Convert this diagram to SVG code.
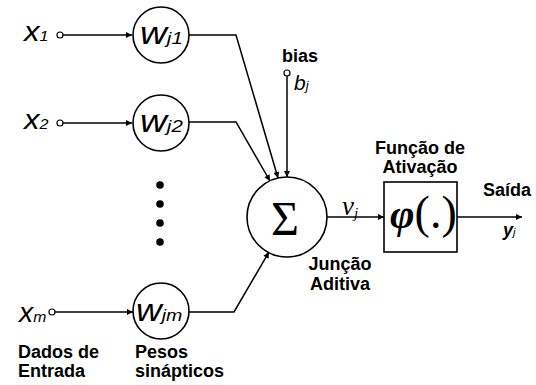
<svg xmlns="http://www.w3.org/2000/svg" width="536" height="385" viewBox="0 0 536 385">
<style>
.ln{fill:none;stroke:#000;stroke-width:1.5}
.nd{fill:#fff;stroke:#000;stroke-width:1.6}
.pt{fill:#fff;stroke:#000;stroke-width:1.2}
.lb{font-family:"Liberation Sans",Arial,sans-serif;font-weight:bold;font-size:18px;fill:#000}
.it{font-family:"Liberation Sans",Arial,sans-serif;font-style:italic;fill:#000}
.sf{font-family:"Liberation Serif","Times New Roman",serif;fill:#000}
</style>
<defs>
<marker id="ah" viewBox="0 0 10 10" refX="10" refY="5" markerWidth="8" markerHeight="6" markerUnits="userSpaceOnUse" orient="auto">
<path d="M0,0 L10,5 L0,10 z" fill="#000"/>
</marker>
</defs>
<rect width="536" height="385" fill="#fff"/>
<g id="connectors">
<line class="ln" x1="63" y1="35" x2="132" y2="35" marker-end="url(#ah)"/>
<line class="ln" x1="63" y1="123" x2="132" y2="123" marker-end="url(#ah)"/>
<line class="ln" x1="55" y1="312" x2="133" y2="312" marker-end="url(#ah)"/>
<polyline class="ln" points="189,35 236,35 278,178" marker-end="url(#ah)"/>
<polyline class="ln" points="189,122 236,122 270,181" marker-end="url(#ah)"/>
<polyline class="ln" points="189,312 234,312 269,252" marker-end="url(#ah)"/>
<line class="ln" x1="287" y1="76" x2="287" y2="177" marker-end="url(#ah)"/>
<line class="ln" x1="327" y1="217" x2="384" y2="217" marker-end="url(#ah)"/>
<line class="ln" x1="457" y1="217" x2="522" y2="217" marker-end="url(#ah)"/>
</g>
<g id="x1">
<circle class="pt" cx="60" cy="35" r="3"/>
<text class="it" transform="translate(24,41) scale(1.15,1)" font-size="27">x<tspan font-size="14">1</tspan></text>
</g>
<g id="x2">
<circle class="pt" cx="60" cy="123" r="3"/>
<text class="it" transform="translate(24,129) scale(1.15,1)" font-size="27">x<tspan font-size="14">2</tspan></text>
</g>
<g id="xm">
<circle class="pt" cx="52" cy="312" r="3"/>
<text class="it" transform="translate(19,322) scale(1.05,1)" font-size="27">x<tspan font-size="15">m</tspan></text>
</g>
<g id="dots">
<circle cx="160" cy="185" r="3.8"/>
<circle cx="160" cy="204" r="3.8"/>
<circle cx="160" cy="223" r="3.8"/>
<circle cx="160" cy="242" r="3.8"/>
</g>
<g id="wj1">
<circle class="nd" cx="161" cy="35" r="28"/>
<text class="it" transform="translate(140,44) scale(1.2,1)" font-size="31">w<tspan font-size="17">j1</tspan></text>
</g>
<g id="wj2">
<circle class="nd" cx="161" cy="123" r="28"/>
<text class="it" transform="translate(140,132) scale(1.2,1)" font-size="31">w<tspan font-size="17">j2</tspan></text>
</g>
<g id="wjm">
<circle class="nd" cx="161" cy="311" r="28"/>
<text class="it" transform="translate(136,321) scale(1.15,1)" font-size="31">w<tspan font-size="17">jm</tspan></text>
</g>
<g id="bias">
<circle class="pt" cx="287" cy="73" r="3"/>
<text class="lb" x="282" y="62" font-size="17">bias</text>
<text class="it" x="294" y="90" font-size="21">b<tspan font-size="13">j</tspan></text>
</g>
<g id="sum">
<circle class="nd" cx="287" cy="217" r="40"/>
<text class="sf" x="285" y="235" font-size="48" text-anchor="middle">Σ</text>
<text class="lb" x="340" y="270" text-anchor="middle">Junção</text>
<text class="lb" x="340" y="290" text-anchor="middle">Aditiva</text>
</g>
<g id="vj">
<text class="sf" x="342" y="215" font-size="27" font-style="italic">ν<tspan font-size="15" dy="3">j</tspan></text>
</g>
<g id="activation">
<rect class="nd" x="384" y="182" width="73" height="70"/>
<text class="sf" x="390" y="228" font-size="46"><tspan font-style="italic" font-weight="bold" font-size="42">φ</tspan>(.)</text>
<text class="lb" x="420" y="154" text-anchor="middle" font-size="16.5">Função de</text>
<text class="lb" x="420" y="173" text-anchor="middle" font-size="16.5">Ativação</text>
</g>
<g id="output">
<text class="lb" x="483" y="196">Saída</text>
<text class="lb" x="503" y="236" font-style="italic">y<tspan font-size="11" font-weight="normal">j</tspan></text>
</g>
<g id="labels">
<text class="lb" x="18" y="358">Dados de</text>
<text class="lb" x="18" y="377">Entrada</text>
<text class="lb" x="135" y="358">Pesos</text>
<text class="lb" x="135" y="377">sinápticos</text>
</g>
</svg>
